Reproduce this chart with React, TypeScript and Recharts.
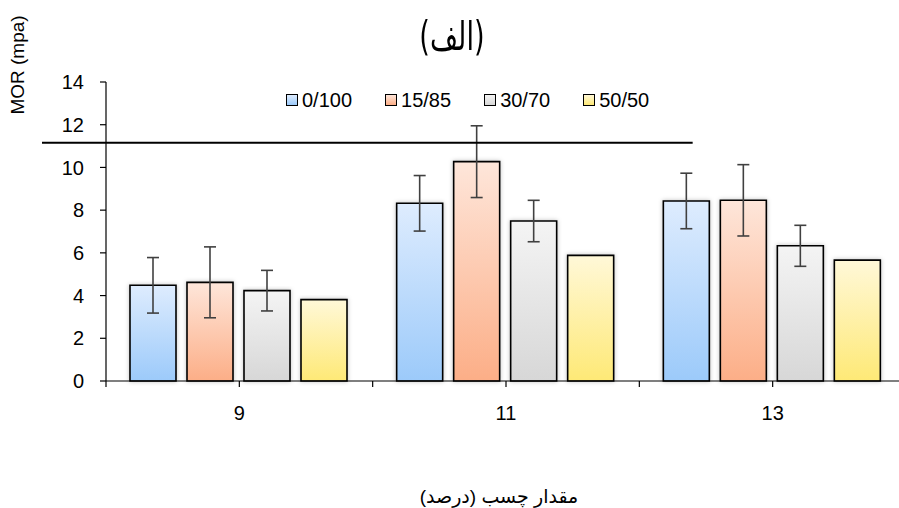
import React from 'react'
import { BarChart, Bar, XAxis, YAxis, ErrorBar, ReferenceLine } from 'recharts'

const categories = ['9', '11', '13']
const series = ['0/100', '15/85', '30/70', '50/50']
const v0100 = [4.48, 8.32, 8.43]
const v1585 = [4.62, 10.27, 8.46]
const v3070 = [4.23, 7.49, 6.33]
const v5050 = [3.81, 5.88, 5.66]
const e0100 = [1.3, 1.3, 1.3]
const e1585 = [1.66, 1.68, 1.67]
const e3070 = [0.95, 0.97, 0.96]
const yTicks = [0, 2, 4, 6, 8, 10, 12, 14]
// stray horizontal rule on the original: MOR value, and start/end in category-band units (0..3)
const strayY = 11.16
const strayFrom = -0.24
const strayTo = 2.2

const gradients = [
  ['#deecfe', '#9ccafa'],
  ['#fee6da', '#fcae87'],
  ['#f4f4f4', '#d7d7d7'],
  ['#fff8d8', '#fee976'],
]

const data = categories.map((c, i) => ({
  cat: c,
  s0: v0100[i], s1: v1585[i], s2: v3070[i], s3: v5050[i],
  e0: e0100[i], e1: e1585[i], e2: e3070[i],
}))

const font = '"Liberation Sans", Arial, "DejaVu Sans", sans-serif'

function XTick(props: any) {
  const { x, y, payload } = props
  const off = payload.offset || 0
  return (
    <g>
      <line x1={x} y1={y - 8} x2={x} y2={y - 2} stroke="#000" strokeWidth={1.2} />
      <line x1={x - off} y1={y - 8} x2={x - off} y2={y - 2} stroke="#000" strokeWidth={1.2} />
      <text x={x} y={y + 31} textAnchor="middle" fontSize={20} fill="#000" fontFamily={font}>{payload.value}</text>
    </g>
  )
}

function StrayLine(props: any) {
  const { x1, x2, y1 } = props
  const w = x2 - x1
  const n = categories.length
  return <line x1={x1 + (w * strayFrom) / n} x2={x1 + (w * strayTo) / n} y1={y1} y2={y1} stroke="#000" strokeWidth={2} />
}

export default function App() {
  const keys = ['s0', 's1', 's2', 's3']
  const errs = ['e0', 'e1', 'e2', null]
  return (
    <div style={{ position: 'absolute', left: 0, top: 0, width: 899, height: 508, overflow: 'hidden', background: '#fff', fontFamily: font }}>
      <div style={{ position: 'absolute', left: 0, top: 0 }}>
        <BarChart width={910} height={508} data={data} margin={{ top: 82, right: 4, bottom: 87, left: 40 }}
          barCategoryGap={24} barGap={11}>
          <defs>
            {gradients.map((g, i) => (
              <linearGradient key={i} id={`grad${i}`} x1="0" y1="0" x2="0" y2="1">
                <stop offset="0%" stopColor={g[0]} />
                <stop offset="100%" stopColor={g[1]} />
              </linearGradient>
            ))}
            <filter id="shadow" x="-20%" y="-5%" width="140%" height="110%">
              <feDropShadow dx="0" dy="0" stdDeviation="2" floodColor="#000" floodOpacity="0.25" />
            </filter>
          </defs>
          <XAxis dataKey="cat" tickLine={false} axisLine={{ stroke: '#000', strokeWidth: 1.2 }} tick={<XTick />} height={40} interval={0} />
          <YAxis domain={[0, 14]} ticks={yTicks} width={66} tickSize={6} tickMargin={16} interval={0}
            axisLine={{ stroke: '#000', strokeWidth: 1.2 }} tickLine={{ stroke: '#000', strokeWidth: 1.2 }}
            tick={{ fill: '#000', fontSize: 20, fontFamily: font }} />
          {keys.map((k, i) => (
            <Bar key={k} dataKey={k} name={series[i]} fill={`url(#grad${i})`} stroke="#000" strokeWidth={1.6}
              isAnimationActive={false} style={{ filter: 'url(#shadow)' }}>
              {errs[i] && <ErrorBar dataKey={errs[i] as string} width={6} stroke="#404040" strokeWidth={1.6} />}
            </Bar>
          ))}
          <ReferenceLine y={strayY} shape={<StrayLine />} ifOverflow="visible" />
        </BarChart>
      </div>
      <div style={{ position: 'absolute', left: 0, width: 904, top: 8, textAlign: 'center', fontSize: 40, lineHeight: '56px', fontFamily: '"DejaVu Sans", Arial, sans-serif' }}>
        <span style={{ display: 'inline-block', transform: 'scaleX(0.68)' }}>(الف)</span>
      </div>
      <div style={{ position: 'absolute', left: 18, top: 65, transform: 'translate(-50%, -50%) rotate(-90deg)', whiteSpace: 'nowrap', fontSize: 19 }}>MOR (mpa)</div>
      <div style={{ position: 'absolute', left: 0, width: 998, top: 485, textAlign: 'center', fontSize: 19, fontFamily: 'Arial, "DejaVu Sans", sans-serif' }} dir="rtl">مقدار چسب (درصد)</div>
      <div style={{ position: 'absolute', left: 286, top: 89, display: 'flex', fontSize: 20, lineHeight: '22px' }}>
        {series.map((s, i) => (
          <div key={s} style={{ display: 'flex', alignItems: 'center', marginRight: 33 }}>
            <span style={{ display: 'inline-block', width: 10, height: 10, border: '1.2px solid #000', background: `linear-gradient(${gradients[i][0]}, ${gradients[i][1]})`, marginRight: 4 }} />
            <span>{s}</span>
          </div>
        ))}
      </div>
    </div>
  )
}
